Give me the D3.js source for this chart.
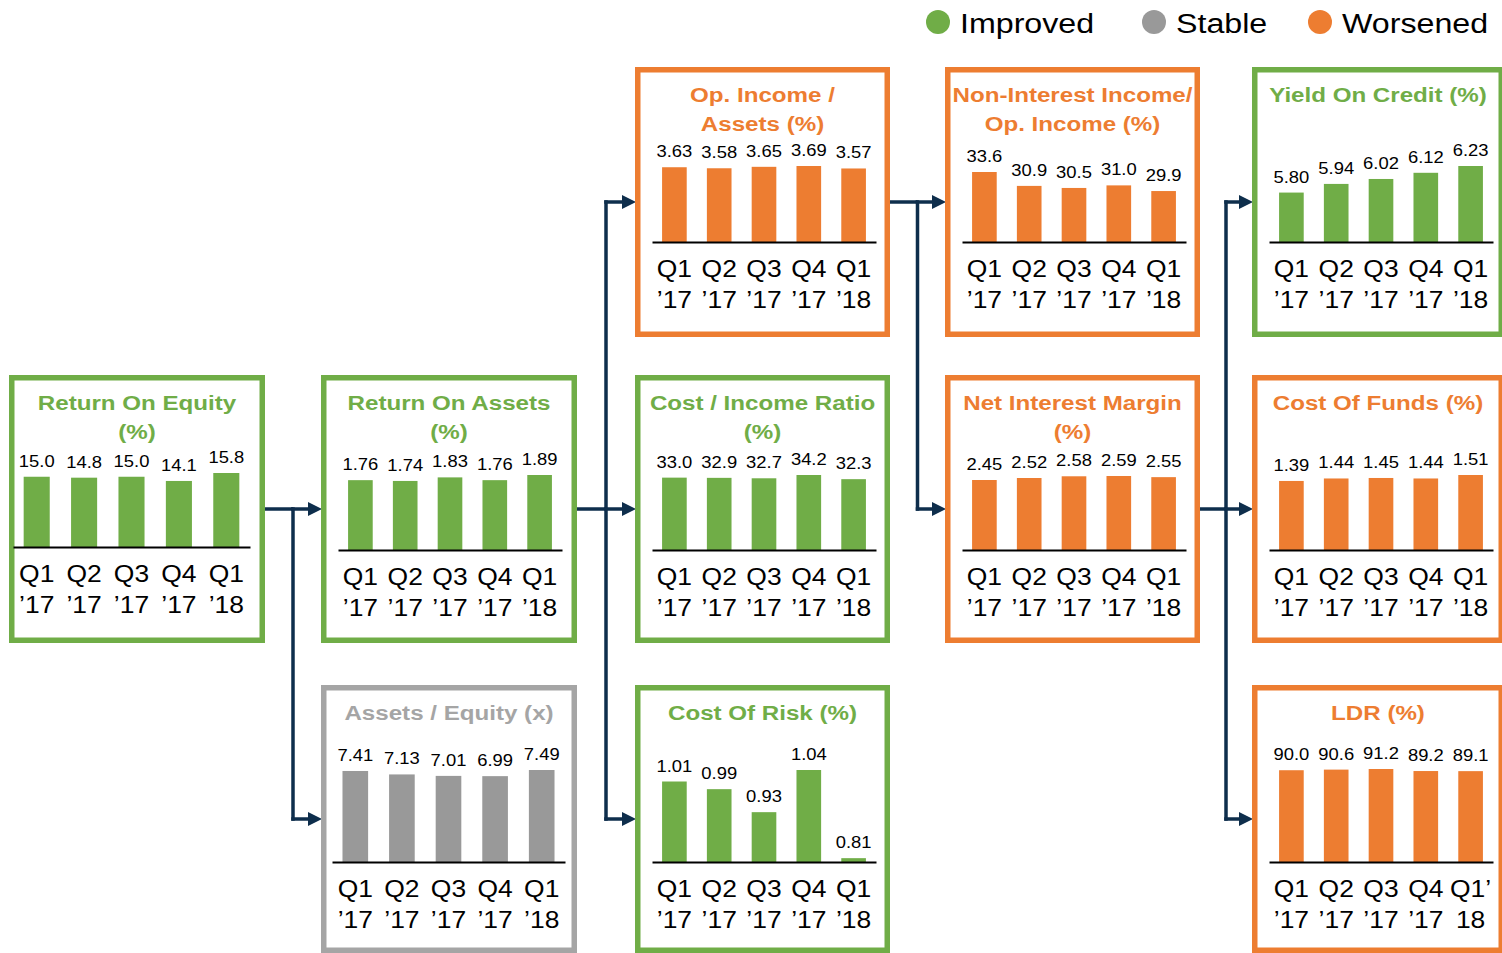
<!DOCTYPE html>
<html>
<head>
<meta charset="utf-8">
<script src="https://cdnjs.cloudflare.com/ajax/libs/d3/7.8.5/d3.min.js"></script>
<style>
  html, body { margin: 0; padding: 0; background: #fff; }
  svg text { font-family: "Liberation Sans", Arial, sans-serif; }
</style>
</head>
<body>
<div id="chart"></div>
<script>
// quarters
var qLine = ['Q1', 'Q2', 'Q3', 'Q4', 'Q1'];
var yearLine = ['\u201917', '\u201917', '\u201917', '\u201917', '\u201918'];
// LDR panel has its apostrophe on the other line
var qLineLdr = ['Q1', 'Q2', 'Q3', 'Q4', 'Q1\u2019'];
var yearLineLdr = ['\u201917', '\u201917', '\u201917', '\u201917', '18'];

// values per metric
var roeValues = [15.0, 14.8, 15.0, 14.1, 15.8];
var roaValues = [1.76, 1.74, 1.83, 1.76, 1.89];
var assetsEquityValues = [7.41, 7.13, 7.01, 6.99, 7.49];
var opIncomeAssetsValues = [3.63, 3.58, 3.65, 3.69, 3.57];
var costIncomeValues = [33.0, 32.9, 32.7, 34.2, 32.3];
var costOfRiskValues = [1.01, 0.99, 0.93, 1.04, 0.81];
var nonInterestValues = [33.6, 30.9, 30.5, 31.0, 29.9];
var nimValues = [2.45, 2.52, 2.58, 2.59, 2.55];
var yieldValues = [5.80, 5.94, 6.02, 6.12, 6.23];
var costFundsValues = [1.39, 1.44, 1.45, 1.44, 1.51];
var ldrValues = [90.0, 90.6, 91.2, 89.2, 89.1];

// value at the bottom of the bars (axis floor)
var axisFloors = {roe: 0, roa: 0, ae: 0, oia: 0, ci: 0, cor: 0.8, nii: 20, nim: 0, yoc: 5.0, cof: 0, ldr: 0};

var legendItems = ['Improved', 'Stable', 'Worsened'];

var statusColor = {
	Improved: '#70AD47',
	Stable: '#A5A5A5',
	Worsened: '#ED7D31'
};
var barColor = {
	Improved: '#70AD47',
	Stable: '#999999',
	Worsened: '#ED7D31'
};

var panels = [
	{id: 'roe', title: ['Return On Equity', '(%)'], values: roeValues, status: 'Improved', dec: 1, col: 0, row: 1, maxH: 74, inset: [4, 241], base: 172},
	{id: 'roa', title: ['Return On Assets', '(%)'], values: roaValues, status: 'Improved', dec: 2, col: 1, row: 1, maxH: 75},
	{id: 'ae', title: ['Assets / Equity (x)'], values: assetsEquityValues, status: 'Stable', dec: 2, col: 1, row: 2, maxH: 92, inset: [11, 244]},
	{id: 'oia', title: ['Op. Income /', 'Assets (%)'], values: opIncomeAssetsValues, status: 'Worsened', dec: 2, col: 2, row: 0, maxH: 76},
	{id: 'ci', title: ['Cost / Income Ratio', '(%)'], values: costIncomeValues, status: 'Improved', dec: 1, col: 2, row: 1, maxH: 75},
	{id: 'cor', title: ['Cost Of Risk (%)'], values: costOfRiskValues, status: 'Improved', dec: 2, col: 2, row: 2, maxH: 92},
	{id: 'nii', title: ['Non-Interest Income/', 'Op. Income (%)'], values: nonInterestValues, status: 'Worsened', dec: 1, col: 3, row: 0, maxH: 70},
	{id: 'nim', title: ['Net Interest Margin', '(%)'], values: nimValues, status: 'Worsened', dec: 2, col: 3, row: 1, maxH: 74},
	{id: 'yoc', title: ['Yield On Credit (%)'], values: yieldValues, status: 'Improved', dec: 2, col: 4, row: 0, maxH: 76},
	{id: 'cof', title: ['Cost Of Funds (%)'], values: costFundsValues, status: 'Worsened', dec: 2, col: 4, row: 1, maxH: 75},
	{id: 'ldr', title: ['LDR (%)'], values: ldrValues, status: 'Worsened', dec: 1, col: 4, row: 2, maxH: 93, ldr: true}
];

// which panel feeds which
var links = [
	{from: 'roe', to: ['roa', 'ae']},
	{from: 'roa', to: ['oia', 'ci', 'cor']},
	{from: 'oia', to: ['nii', 'nim']},
	{from: 'nim', to: ['yoc', 'cof', 'ldr']}
];

var W = 1502, H = 953;
var colX = [9, 321, 635, 945, 1252];
var colW = [256, 256, 255, 255, 252];
var rowY = [67, 375, 685];
var rowH = [270, 268, 268];
var STRETCH = 1.15;
var navy = '#0E2E4C';

var svg = d3.select('#chart').append('svg')
	.attr('width', W)
	.attr('height', H);

function label(g, x, y, str, size, weight, color, anchor) {
	return g.append('text')
		.attr('transform', 'translate(' + x + ',' + y + ') scale(' + STRETCH + ',1)')
		.attr('text-anchor', anchor || 'middle')
		.style('font-size', size + 'px')
		.style('font-weight', weight)
		.attr('fill', color)
		.text(str);
}

function box(p) {
	return {
		x: colX[p.col],
		y: rowY[p.row],
		w: colW[p.col],
		h: rowH[p.row]
	};
}

var byId = {};
panels.forEach(function (p) { byId[p.id] = p; });

// connectors first, boxes drawn on top
links.forEach(function (l) {
	var s = box(byId[l.from]);
	var sy = s.y + s.h / 2;
	var targets = l.to.map(function (id) { return box(byId[id]); });
	var tx = targets[0].x;
	var trunk = (s.x + s.w + tx) / 2;
	var ys = targets.map(function (t) { return t.y + t.h / 2; }).concat([sy]);
	var g = svg.append('g');
	g.append('line')
		.attr('x1', s.x + s.w - 3).attr('x2', trunk)
		.attr('y1', sy).attr('y2', sy)
		.attr('stroke', navy).attr('stroke-width', 3.5);
	g.append('line')
		.attr('x1', trunk).attr('x2', trunk)
		.attr('y1', d3.min(ys) - 1.75).attr('y2', d3.max(ys) + 1.75)
		.attr('stroke', navy).attr('stroke-width', 3.5);
	targets.forEach(function (t) {
		var ty = t.y + t.h / 2;
		g.append('line')
			.attr('x1', trunk - 1.75).attr('x2', t.x - 10)
			.attr('y1', ty).attr('y2', ty)
			.attr('stroke', navy).attr('stroke-width', 3.5);
		g.append('path')
			.attr('d', 'M' + (t.x + 1) + ',' + ty + 'L' + (t.x - 13) + ',' + (ty - 7) + 'L' + (t.x - 13) + ',' + (ty + 7) + 'Z')
			.attr('fill', navy);
	});
});

panels.forEach(function (p) {
	var b = box(p);
	var color = statusColor[p.status];
	var g = svg.append('g').attr('transform', 'translate(' + b.x + ',' + b.y + ')');

	g.append('rect')
		.attr('x', 2.75).attr('y', 2.75)
		.attr('width', b.w - 5.5).attr('height', b.h - 5.5)
		.attr('fill', '#fff')
		.attr('stroke', color)
		.attr('stroke-width', 5.5);

	p.title.forEach(function (t, i) {
		label(g, b.w / 2, 35 + i * 29, t, 21, 'bold', color);
	});

	var base = p.base || (p.row == 2 ? 177 : 175);
	var xScale = d3.scaleBand()
		.domain(d3.range(p.values.length))
		.range(p.inset || [17, 241])
		.paddingInner(0.45)
		.paddingOuter(0.225);
	var yScale = d3.scaleLinear()
		.domain([axisFloors[p.id], d3.max(p.values)])
		.range([base, base - p.maxH]);
	var fmt = d3.format('.' + p.dec + 'f');

	g.selectAll('.bar')
		.data(p.values)
		.enter()
		.append('rect')
		.attr('x', function (d, i) { return xScale(i); })
		.attr('y', function (d) { return yScale(d); })
		.attr('width', xScale.bandwidth())
		.attr('height', function (d) { return base - yScale(d); })
		.attr('fill', barColor[p.status]);

	p.values.forEach(function (d, i) {
		label(g, xScale(i) + xScale.bandwidth() / 2, yScale(d) - 10, fmt(d), 16, 'normal', '#000');
	});

	var axis = g.append('g')
		.attr('transform', 'translate(0,' + base + ')')
		.call(d3.axisBottom(xScale).tickSize(0).tickFormat(function () { return ''; }));
	axis.select('.domain').attr('stroke', '#000').attr('stroke-width', 2);

	var ql = p.ldr ? qLineLdr : qLine;
	var yl = p.ldr ? yearLineLdr : yearLine;
	ql.forEach(function (q, i) {
		var cx = xScale(i) + xScale.bandwidth() / 2;
		label(g, cx, base + 35, q, 23, 'normal', '#000');
		label(g, cx, base + 66, yl[i], 23, 'normal', '#000');
	});
});

// legend
var legendX = [938, 1154, 1320];
var lg = svg.append('g');
legendItems.forEach(function (name, i) {
	lg.append('circle')
		.attr('cx', legendX[i]).attr('cy', 22).attr('r', 12)
		.attr('fill', barColor[name]);
	label(lg, legendX[i] + 22, 33, name, 28, 'normal', '#000', 'start');
});
</script>
</body>
</html>
